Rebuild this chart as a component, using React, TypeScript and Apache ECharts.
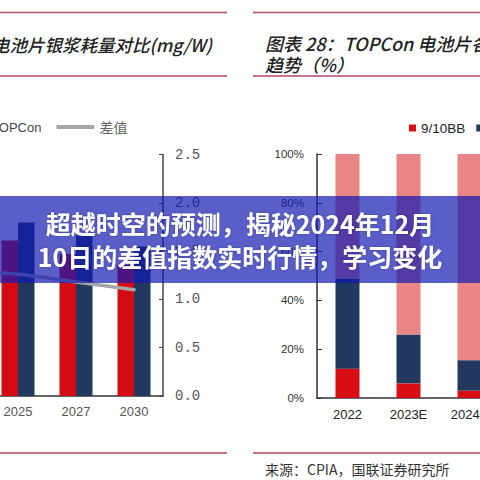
import React, { useEffect, useRef } from "react";
import * as echarts from "echarts";

// Left chart: silver paste consumption (mg/W) and difference
const leftYears = ["2024", "2025", "2027", "2030"];
const percValues = [11.0, 10.3, 9.4, 8.7];
const topconValues = [12.3, 11.5, 10.7, 9.9];
const diffValues = [1.3, 1.26, 1.18, 1.1];
const diffTicks = { min: 0, max: 2.5, interval: 0.5 };

// Right chart: TOPCon busbar technology share (%)
const rightYears = ["2022", "2023E", "2024E", "2025E"];
const bb9to10 = [12, 6, 3, 1];
const bb11to12 = [37, 20, 12.5, 8];
const bb13plus = [51, 74, 84.5, 91];
const shareTicks = { min: 0, max: 100, interval: 20 };

const RULE = "#b5475f";
const CJK = "'Noto Sans CJK SC', sans-serif";
const SANS = "'Liberation Sans', Arial, sans-serif";

export default function App() {
  const ref = useRef<HTMLDivElement>(null);

  useEffect(() => {
    document.body.style.margin = "0";
    if (!ref.current) return;
    const chart = echarts.init(ref.current, null, { renderer: "svg" });

    const rule = (x1: number, x2: number, y: number) => ({
      type: "line",
      z: 50,
      shape: { x1, y1: y, x2, y2: y },
      style: { stroke: RULE, lineWidth: 1.5 },
    });

    chart.setOption({
      animation: false,
      backgroundColor: "#ffffff",
      legend: [
        {
          left: -151,
          top: 115,
          width: 600,
          itemWidth: 38,
          itemHeight: 4,
          itemGap: 15,
          selectedMode: false,
          textStyle: { fontFamily: SANS, fontSize: 13, color: "#444" },
          data: [
            { name: "PERC", icon: "rect" },
            { name: "TOPCon", icon: "rect" },
            {
              name: "差值",
              icon: "roundRect",
              itemStyle: { color: "#a6a6a6" },
              textStyle: { fontFamily: CJK, fontSize: 14, color: "#666" },
            },
          ],
        },
        {
          left: 404,
          top: 116,
          width: 400,
          itemWidth: 7,
          itemHeight: 7,
          itemGap: 11,
          icon: "rect",
          selectedMode: false,
          textStyle: { fontFamily: SANS, fontSize: 13.5, color: "#222" },
          data: ["9/10BB", "11-12BB", "13BB及以上"],
        },
      ],
      grid: [
        {
          left: -69,
          width: 232,
          top: 154.5,
          height: 241.5,
          containLabel: false,
          outerBoundsMode: "none",
        },
        {
          left: 317,
          width: 244,
          top: 154,
          height: 244,
          containLabel: false,
          outerBoundsMode: "none",
        },
      ],
      xAxis: [
        {
          type: "category",
          gridIndex: 0,
          data: leftYears,
          axisLine: { lineStyle: { color: "#333", width: 1.5 } },
          axisTick: { inside: true, length: 5, lineStyle: { color: "#333" } },
          axisLabel: { fontFamily: SANS, fontSize: 13, color: "#555", margin: 9 },
        },
        {
          type: "category",
          gridIndex: 1,
          data: rightYears,
          axisLine: { lineStyle: { color: "#333", width: 1.5 } },
          axisTick: { inside: true, length: 5, lineStyle: { color: "#333" } },
          axisLabel: { fontFamily: SANS, fontSize: 13, color: "#222", margin: 10 },
        },
      ],
      yAxis: [
        { type: "value", gridIndex: 0, min: 0, max: 16, show: false },
        {
          type: "value",
          gridIndex: 0,
          position: "right",
          min: diffTicks.min,
          max: diffTicks.max,
          interval: diffTicks.interval,
          splitLine: { show: false },
          axisLine: { show: true, lineStyle: { color: "#444", width: 1.5 } },
          axisTick: { show: true, inside: true, length: 4, lineStyle: { color: "#444" } },
          axisLabel: {
            margin: 12,
            fontFamily: "'Liberation Mono', 'DejaVu Sans Mono', monospace",
            fontSize: 14,
            color: "#555",
            formatter: (v: number) => v.toFixed(1),
          },
        },
        {
          type: "value",
          gridIndex: 1,
          min: shareTicks.min,
          max: shareTicks.max,
          interval: shareTicks.interval,
          splitLine: { show: false },
          axisLine: { show: true, lineStyle: { color: "#333", width: 1.5 } },
          axisTick: { show: true, inside: true, length: 5, lineStyle: { color: "#333" } },
          axisLabel: {
            margin: 13,
            fontFamily: SANS,
            fontSize: 11.5,
            color: "#333",
            formatter: "{value}%",
          },
        },
      ],
      series: [
        {
          name: "PERC",
          type: "bar",
          xAxisIndex: 0,
          yAxisIndex: 0,
          data: percValues,
          barWidth: 16.5,
          barGap: "0%",
          itemStyle: { color: "#d40a12" },
        },
        {
          name: "TOPCon",
          type: "bar",
          xAxisIndex: 0,
          yAxisIndex: 0,
          data: topconValues,
          barWidth: 16.5,
          barGap: "0%",
          itemStyle: { color: "#21395f" },
        },
        {
          name: "差值",
          type: "line",
          xAxisIndex: 0,
          yAxisIndex: 1,
          data: diffValues,
          smooth: 0.3,
          symbol: "none",
          lineStyle: { color: "#a6a6a6", width: 3.5, cap: "round" },
          itemStyle: { color: "#a6a6a6" },
          z: 3,
        },
        {
          name: "9/10BB",
          type: "bar",
          xAxisIndex: 1,
          yAxisIndex: 2,
          stack: "share",
          data: bb9to10,
          barWidth: 24,
          itemStyle: { color: "#d90d14" },
        },
        {
          name: "11-12BB",
          type: "bar",
          xAxisIndex: 1,
          yAxisIndex: 2,
          stack: "share",
          data: bb11to12,
          barWidth: 24,
          itemStyle: { color: "#21395f" },
        },
        {
          name: "13BB及以上",
          type: "bar",
          xAxisIndex: 1,
          yAxisIndex: 2,
          stack: "share",
          data: bb13plus,
          barWidth: 24,
          itemStyle: { color: "#ea8585" },
        },
      ],
      graphic: [
        rule(0, 227, 12.5),
        rule(0, 227, 76),
        rule(0, 227, 453),
        rule(253, 480, 12.5),
        rule(253, 480, 76),
        rule(253, 480, 453),
        {
          type: "text",
          z: 50,
          x: -8,
          y: 44,
          style: {
            text: "电池片银浆耗量对比(mg/W)",
            fontFamily: CJK,
            fontSize: 17.5,
            fontStyle: "italic",
            fontWeight: 500,
            fill: "#222",
            verticalAlign: "middle",
          },
        },
        {
          type: "text",
          z: 50,
          x: 265,
          y: 43,
          style: {
            text: "图表 28：TOPCon 电池片各",
            fontFamily: CJK,
            fontSize: 18,
            fontStyle: "italic",
            fontWeight: 500,
            fill: "#222",
            verticalAlign: "middle",
          },
        },
        {
          type: "text",
          z: 50,
          x: 265,
          y: 64,
          style: {
            text: "趋势（%）",
            fontFamily: CJK,
            fontSize: 18,
            fontStyle: "italic",
            fontWeight: 500,
            fill: "#222",
            verticalAlign: "middle",
          },
        },
        {
          type: "text",
          z: 50,
          x: 265,
          y: 469,
          style: {
            text: "来源：CPIA，国联证券研究所",
            fontFamily: CJK,
            fontSize: 14,
            fill: "#333",
            verticalAlign: "middle",
          },
        },
        {
          type: "rect",
          z: 100,
          shape: { x: 0, y: 196, width: 480, height: 87 },
          style: { fill: "rgba(19,26,176,0.7)" },
        },
        {
          type: "text",
          z: 101,
          x: 240,
          y: 223,
          style: {
            text: "超越时空的预测，揭秘2024年12月",
            fontFamily: CJK,
            fontSize: 25,
            fontWeight: "bold",
            fill: "#ffffff",
            align: "center",
            verticalAlign: "middle",
            textShadowColor: "rgba(0,0,0,0.3)",
            textShadowBlur: 2,
          },
        },
        {
          type: "text",
          z: 101,
          x: 240,
          y: 256,
          style: {
            text: "10日的差值指数实时行情，学习变化",
            fontFamily: CJK,
            fontSize: 25,
            fontWeight: "bold",
            fill: "#ffffff",
            align: "center",
            verticalAlign: "middle",
            textShadowColor: "rgba(0,0,0,0.3)",
            textShadowBlur: 2,
          },
        },
      ],
    });

    return () => chart.dispose();
  }, []);

  return (
    <div
      ref={ref}
      style={{ position: "fixed", left: 0, top: 0, width: 480, height: 480 }}
    />
  );
}
